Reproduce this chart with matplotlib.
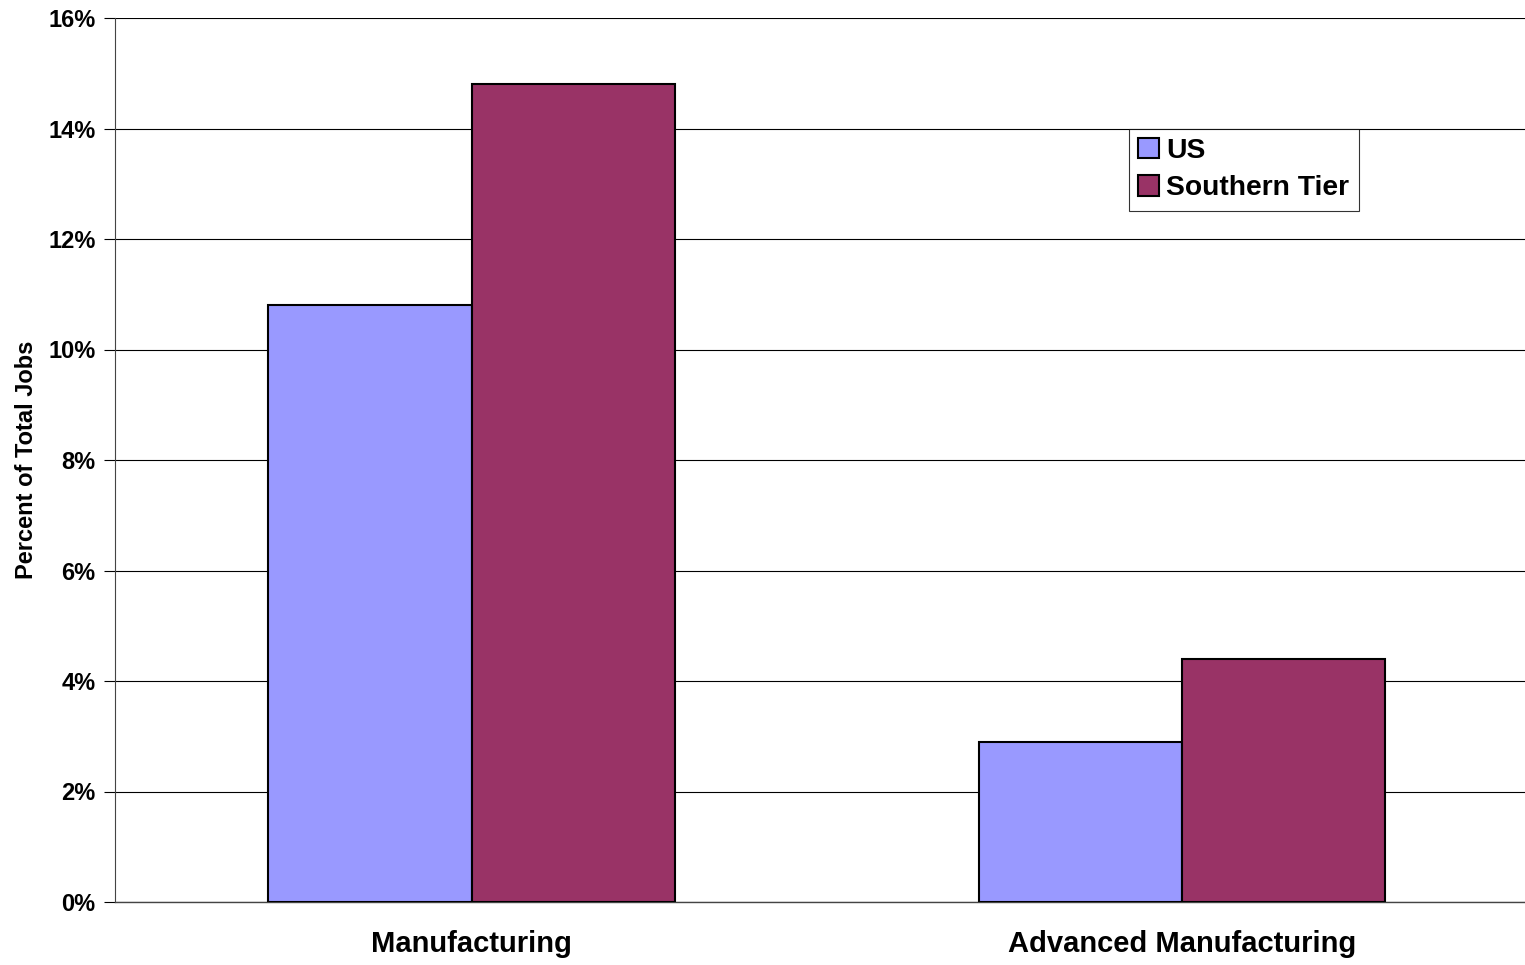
import numpy as np
import matplotlib.pyplot as plt
from matplotlib.ticker import FuncFormatter

plt.rcParams['font.family'] = ['Liberation Sans', 'DejaVu Sans']
plt.rcParams['font.weight'] = 'bold'

# job shares (percent of total jobs)
categories = ['Manufacturing', 'Advanced Manufacturing']
us_share = [10.8, 2.9]
southern_tier_share = [14.8, 4.4]

fig = plt.figure(figsize=(15.25, 9.65), dpi=100)
ax = fig.add_axes([115 / 1525, 1 - 902 / 965, 1410 / 1525, 884 / 965])

x = np.arange(len(categories))
w = 0.286
ax.bar(x - w / 2, us_share, w, color='#9999FF', edgecolor='black', linewidth=1.5,
       label='US', zorder=3)
ax.bar(x + w / 2, southern_tier_share, w, color='#993366', edgecolor='black', linewidth=1.5,
       label='Southern Tier', zorder=3)

ax.set_xlim(-0.502, 1.483)
ax.set_ylim(0, 16)
ax.set_yticks(np.arange(0, 17, 2))
ax.yaxis.set_major_formatter(FuncFormatter(lambda v, p: f'{v:.0f}%'))
ax.yaxis.grid(True, color='black', linewidth=0.8, zorder=0)
ax.set_axisbelow(True)

ax.set_xticks(x)
ax.set_xticklabels(categories, fontsize=21, fontweight='bold')
ax.tick_params(axis='x', length=0, pad=20)
ax.tick_params(axis='y', labelsize=17, length=8, width=0.8, pad=6, colors='black')
ax.set_ylabel('Percent of Total Jobs', fontsize=17, fontweight='bold', labelpad=7)

for s in ['top', 'right']:
    ax.spines[s].set_visible(False)
ax.spines['left'].set_linewidth(0.8)
ax.spines['left'].set_color('#444444')
ax.spines['bottom'].set_linewidth(1.0)
ax.spines['bottom'].set_color('#444444')

leg = ax.legend(loc='upper left', bbox_to_anchor=(0.719, 0.875), borderaxespad=0,
                fontsize=20.3, frameon=True, fancybox=False, edgecolor='black',
                handlelength=0.75, handleheight=0.75, handletextpad=0.25,
                labelspacing=0.4, borderpad=0.33)
leg.get_frame().set_linewidth(0.8)
for t in leg.get_texts():
    t.set_fontweight('bold')

fig.savefig('out.png', dpi=100)
